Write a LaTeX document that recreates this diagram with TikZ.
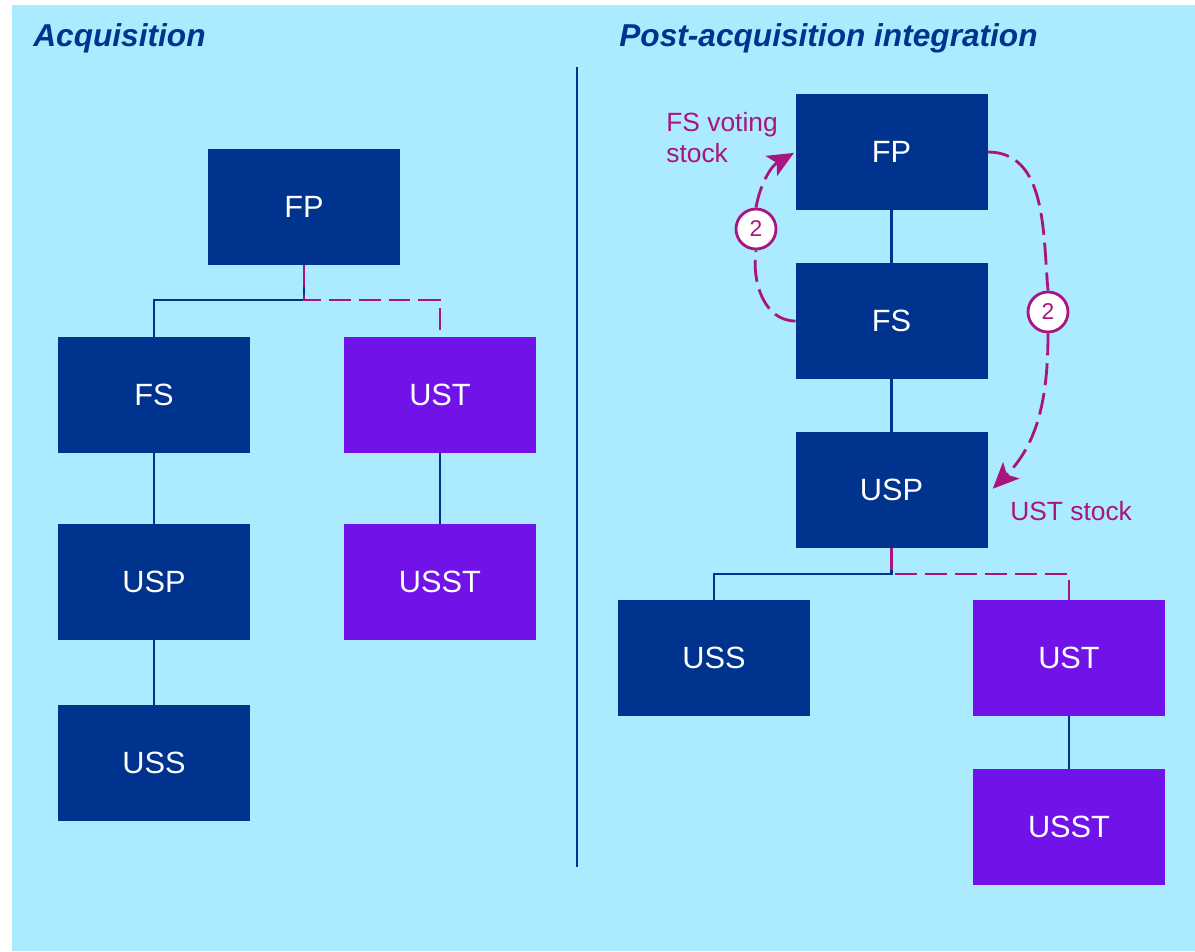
\documentclass[tikz,border=0pt]{standalone}
\usepackage{fontspec}
\setmainfont{Liberation Sans}
\usetikzlibrary{arrows.meta,calc,positioning}
\definecolor{bgblue}{HTML}{ABEAFF}
\definecolor{fpblue}{HTML}{00338D}
\definecolor{tgtpurple}{HTML}{7113E8}
\definecolor{flowmag}{HTML}{A8157F}
\tikzset{
    deal diagram/.style = {>={Stealth[length=5.2mm, width=4.6mm, inset=1.2mm]}},
    entity/.style       = {fill=fpblue, text=white, outer sep=0pt,
                           minimum width=3.84cm, minimum height=2.32cm,
                           font=\fontsize{17.5}{20}\selectfont},
    target/.style       = {entity, fill=tgtpurple},
    own/.style          = {draw=fpblue, line width=1.3pt},
    newown/.style       = {draw=flowmag, line width=1.6pt,
                           dash pattern=on 12.5pt off 4.5pt},
    flow/.style         = {newown, ->, shorten >=1pt},
    stepmark/.style     = {circle, draw=flowmag, line width=1.6pt, fill=white,
                           text=flowmag, minimum size=0.8cm, inner sep=0pt,
                           font=\fontsize{13}{15}\selectfont},
    note/.style         = {text=flowmag, inner sep=0pt, align=left,
                           font=\fontsize{15}{17.6}\selectfont},
    heading/.style      = {text=fpblue, inner sep=0pt,
                           font=\fontsize{18}{21}\selectfont\bfseries\itshape},
    divider/.style      = {draw=fpblue, line width=1.3pt}
}
\begin{document}
\begin{tikzpicture}[deal diagram]

% Page and panel background
\useasboundingbox (0,0) rectangle (23.9,-19.02);
\fill[bgblue] (0.24,-0.1) rectangle (23.9,-19.02);

% Panel titles
\node[heading, anchor=west] (hAcq)  at (0.66,-0.76)  {Acquisition};
\node[heading, anchor=west] (hPost) at (12.38,-0.76) {Post-acquisition integration};

% Divider between the two panels
\coordinate (divTop) at (11.54,-1.34);
\coordinate (divBot) at (11.54,-17.34);
\draw[divider] (divTop) -- (divBot);

% Acquisition: structure
\node[entity] (aFP) at (6.08,-4.14) {FP};
\node[entity] (aFS) at (3.08,-7.90) {FS};
\node[target, right=1.88cm of aFS] (aUST) {UST};
\node[entity, below=1.42cm of aFS] (aUSP) {USP};
\node[entity, below=1.30cm of aUSP] (aUSS) {USS};
\node[target, below=1.42cm of aUST] (aUSST) {USST};

\coordinate (aJ) at ($(aFP.south)+(0,-0.7)$);
\draw[own] (aFP.south) -- (aJ) -| (aFS.north);
\draw[newown] (aFP.south) -- (aJ) -| (aUST.north);
\draw[own] (aFS) -- (aUSP);
\draw[own] (aUSP) -- (aUSS);
\draw[own] (aUST) -- (aUSST);

% Post-acquisition integration: structure
\node[entity] (bFP) at (17.83,-3.04) {FP};
\node[entity, below=1.06cm of bFP] (bFS) {FS};
\node[entity, below=1.06cm of bFS] (bUSP) {USP};
\node[entity] (bUSS) at (14.28,-13.16) {USS};
\node[target] (bUST) at (21.38,-13.16) {UST};
\node[target, below=1.06cm of bUST] (bUSST) {USST};

\draw[own] (bFP) -- (bFS);
\draw[own] (bFS) -- (bUSP);
\coordinate (bJ) at ($(bUSP.south)+(0,-0.52)$);
\draw[own] (bUSP.south) -- (bJ) -| (bUSS.north);
\draw[newown] (bUSP.south) -- (bJ) -| (bUST.north);
\draw[own] (bUST) -- (bUSST);

% Stock transfers (step 2)
\node[stepmark] (m1) at (15.12,-4.58) {2};
\node[stepmark] (m2) at (20.96,-6.24) {2};
\draw[newown] (bFS.west) to[out=180, in=-98] (m1.south);
\draw[flow] (m1.north) to[out=80, in=210] (bFP.west);
\draw[newown] (bFP.east) to[out=0, in=95] (m2.north);
\draw[flow] (m2.south) to[out=-90, in=45] ($(bUSP.east)+(0.08,0)$);

\node[note, anchor=west] (lblFS)  at (13.32,-2.76) {FS voting\\stock};
\node[note, anchor=west] (lblUST) at (20.20,-10.22) {UST stock};

\end{tikzpicture}
\end{document}
